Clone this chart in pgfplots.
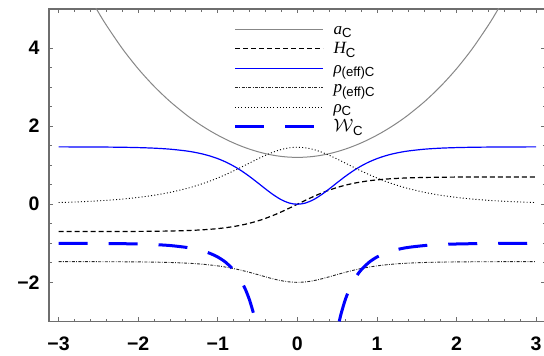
\documentclass[border=0pt]{standalone}
\usepackage{fontspec}
\setmainfont{Liberation Sans}
\setsansfont{Liberation Sans}
\newfontfamily\tnr{Liberation Serif}
\usepackage{pgfplots}
\pgfplotsset{compat=1.18}
\usepackage{pgfplotstable}

\definecolor{mblue}{RGB}{0,0,255}
\definecolor{agray}{RGB}{135,135,135}
\definecolor{fgray}{RGB}{110,110,110}

\newcommand{\sub}[1]{\raisebox{-0.35ex}{\fontsize{6.6}{6.6}\selectfont #1}}

\pgfplotstableread{
t a H reff peff rhoC
-3.0 6.9783 -0.6997 1.4689 -1.4704 0.0432
-2.8 6.0671 -0.6995 1.4680 -1.4707 0.0571
-2.6 5.2747 -0.6992 1.4665 -1.4713 0.0756
-2.5 4.9188 -0.6989 1.4654 -1.4717 0.0869
-2.4 4.5868 -0.6985 1.4638 -1.4722 0.0999
-2.2 3.9893 -0.6974 1.4591 -1.4739 0.1321
-2.0 3.4705 -0.6954 1.4507 -1.4770 0.1746
-1.8 3.0208 -0.6919 1.4361 -1.4822 0.2304
-1.6 2.6320 -0.6857 1.4104 -1.4915 0.3035
-1.4 2.2970 -0.6748 1.3661 -1.5075 0.3985
-1.3 2.1479 -0.6667 1.3334 -1.5192 0.4557
-1.2 2.0104 -0.6560 1.2911 -1.5345 0.5202
-1.1 1.8840 -0.6421 1.2368 -1.5541 0.5924
-1.0 1.7684 -0.6240 1.1680 -1.5789 0.6723
-0.9 1.6632 -0.6006 1.0822 -1.6098 0.7600
-0.8 1.5685 -0.5708 0.9773 -1.6476 0.8545
-0.7 1.4842 -0.5331 0.8526 -1.6926 0.9544
-0.6 1.4103 -0.4863 0.7096 -1.7442 1.0571
-0.5 1.3471 -0.4294 0.5530 -1.8006 1.1586
-0.4 1.2947 -0.3615 0.3920 -1.8587 1.2541
-0.3 1.2536 -0.2829 0.2401 -1.9134 1.3379
-0.2 1.2239 -0.1947 0.1138 -1.9590 1.4035
-0.1 1.2060 -0.0993 0.0296 -1.9893 1.4455
0.0 1.2000 0.0000 0.0000 -2.0000 1.4600
0.1 1.2060 0.0993 0.0296 -1.9893 1.4455
0.2 1.2239 0.1947 0.1138 -1.9590 1.4035
0.3 1.2536 0.2829 0.2401 -1.9134 1.3379
0.4 1.2947 0.3615 0.3920 -1.8587 1.2541
0.5 1.3471 0.4294 0.5530 -1.8006 1.1586
0.6 1.4103 0.4863 0.7096 -1.7442 1.0571
0.7 1.4842 0.5331 0.8526 -1.6926 0.9544
0.8 1.5685 0.5708 0.9773 -1.6476 0.8545
0.9 1.6632 0.6006 1.0822 -1.6098 0.7600
1.0 1.7684 0.6240 1.1680 -1.5789 0.6723
1.1 1.8840 0.6421 1.2368 -1.5541 0.5924
1.2 2.0104 0.6560 1.2911 -1.5345 0.5202
1.3 2.1479 0.6667 1.3334 -1.5192 0.4557
1.4 2.2970 0.6748 1.3661 -1.5075 0.3985
1.6 2.6320 0.6857 1.4104 -1.4915 0.3035
1.8 3.0208 0.6919 1.4361 -1.4822 0.2304
2.0 3.4705 0.6954 1.4507 -1.4770 0.1746
2.2 3.9893 0.6974 1.4591 -1.4739 0.1321
2.4 4.5868 0.6985 1.4638 -1.4722 0.0999
2.5 4.9188 0.6989 1.4654 -1.4717 0.0869
2.6 5.2747 0.6992 1.4665 -1.4713 0.0756
2.8 6.0671 0.6995 1.4680 -1.4707 0.0571
3.0 6.9783 0.6997 1.4689 -1.4704 0.0432
}\maintab

\pgfplotstableread{
t W
-3.0 -1.0010
-2.8 -1.0018
-2.6 -1.0032
-2.4 -1.0057
-2.2 -1.0102
-2.0 -1.0181
-1.8 -1.0322
-1.6 -1.0575
-1.4 -1.1034
-1.3 -1.1394
-1.2 -1.1885
-1.1 -1.2565
-1.0 -1.3518
-0.9 -1.4876
-0.8 -1.6859
-0.75 -1.8195
-0.7 -1.9851
-0.65 -2.1931
-0.6 -2.4579
-0.55 -2.8013
-0.5263 -3.0000
}\Wleft

\pgfplotstableread{
t W
0.5263 -3.0000
0.55 -2.8013
0.6 -2.4579
0.65 -2.1931
0.7 -1.9851
0.75 -1.8195
0.8 -1.6859
0.9 -1.4876
1.0 -1.3518
1.1 -1.2565
1.2 -1.1885
1.3 -1.1394
1.4 -1.1034
1.6 -1.0575
1.8 -1.0322
2.0 -1.0181
2.2 -1.0102
2.4 -1.0057
2.6 -1.0032
2.8 -1.0018
3.0 -1.0010
}\Wright

\begin{document}
\begin{tikzpicture}
\begin{axis}[
  scale only axis,
  width=248.35bp, height=156.2bp,
  xmin=-3.12, xmax=3.12,
  ymin=-3, ymax=5,
  xtick={-3,-2,-1,0,1,2,3},
  xticklabels={−3,−2,−1,0,1,2,3},
  ytick={-2,0,2,4},
  yticklabels={−2,0,2,4},
  minor x tick num=4,
  minor y tick num=3,
  major tick length=2.2bp,
  minor tick length=1.3bp,
  tick style={color=fgray, line width=0.45bp},
  axis line style={color=fgray, line width=0.6bp},
  ticklabel style={font=\bfseries\fontsize{9.8}{10}\selectfont, text=black},
  xticklabel style={yshift=-4.2bp},
  yticklabel style={xshift=-1.2bp},
  legend image code/.code={\draw[#1] (0bp,0bp) -- (44bp,0bp);},
  legend cell align=left,
  legend style={
    draw=none, fill=none,
    at={(axis cs:-0.807,4.74)}, anchor=north west,
    inner sep=0pt, row sep=0pt,
    font=\fontsize{8.6}{9}\selectfont,
    nodes={inner sep=0pt, text height=7.4bp, text depth=2.35bp},
    /tikz/every odd column/.append style={column sep=4.5bp},
  },
]
\addplot[agray, line width=0.5bp, smooth] table[x=t, y=a] {\maintab};
\addlegendentry{{\tnr\itshape a}\sub{C}}
\addplot[black, line width=0.6bp, dash pattern=on 2.5bp off 1.5bp, smooth] table[x=t, y=H] {\maintab};
\addlegendentry{{\tnr\itshape H}\sub{C}}
\addplot[mblue, line width=0.6bp, smooth] table[x=t, y=reff] {\maintab};
\addlegendentry{{\tnr\itshape ρ}\sub{(eff)C}}
\addplot[black!85, line width=0.45bp, dash pattern=on 1.5bp off 0.7bp on 0.4bp off 0.7bp, smooth] table[x=t, y=peff] {\maintab};
\addlegendentry{{\tnr\itshape p}\sub{(eff)C}}
\addplot[black, line width=0.45bp, dash pattern=on 0.5bp off 1.1bp, smooth] table[x=t, y=rhoC] {\maintab};
\addlegendentry{{\tnr\itshape ρ}\sub{C}}
\addplot[mblue, line width=1.5bp, dash pattern=on 14.5bp off 10.5bp, smooth] table[x=t, y=W] {\Wleft};
\addlegendentry{$\mathcal{W}$\sub{C}}
\addplot[mblue, line width=1.5bp, dash pattern=on 14.5bp off 10.5bp, smooth, forget plot] table[x=t, y=W] {\Wright};
\end{axis}
\pgfresetboundingbox
\useasboundingbox ([xshift=-24.5bp,yshift=-17.3bp]current axis.south west) rectangle ([xshift=-0.85bp,yshift=4.5bp]current axis.north east);
\end{tikzpicture}
\end{document}
